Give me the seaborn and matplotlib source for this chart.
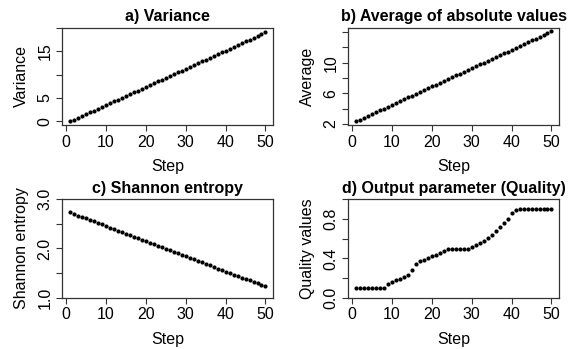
import matplotlib
matplotlib.use("Agg")
import matplotlib.pyplot as plt
import seaborn as sns
import pandas as pd

steps = list(range(1, 51))

variance = [0.00, 0.39, 0.78, 1.16, 1.55, 1.94, 2.33, 2.72, 3.10, 3.49,
            3.88, 4.27, 4.66, 5.04, 5.43, 5.82, 6.21, 6.60, 6.98, 7.37,
            7.76, 8.15, 8.54, 8.92, 9.31, 9.70, 10.09, 10.48, 10.86, 11.25,
            11.64, 12.03, 12.42, 12.80, 13.19, 13.58, 13.97, 14.36, 14.74, 15.13,
            15.52, 15.91, 16.30, 16.68, 17.07, 17.46, 17.85, 18.24, 18.62, 19.01]

average = [2.34, 2.58, 2.82, 3.06, 3.30, 3.54, 3.78, 4.02, 4.26, 4.50,
           4.74, 4.98, 5.22, 5.46, 5.70, 5.94, 6.18, 6.42, 6.66, 6.90,
           7.14, 7.38, 7.62, 7.86, 8.10, 8.34, 8.58, 8.82, 9.06, 9.30,
           9.54, 9.78, 10.02, 10.26, 10.50, 10.74, 10.98, 11.22, 11.46, 11.70,
           11.94, 12.18, 12.42, 12.66, 12.90, 13.14, 13.38, 13.62, 13.86, 14.10]

entropy = [2.74, 2.70, 2.67, 2.64, 2.61, 2.58, 2.55, 2.52, 2.49, 2.46,
           2.42, 2.39, 2.36, 2.33, 2.30, 2.27, 2.24, 2.21, 2.18, 2.15,
           2.12, 2.09, 2.06, 2.03, 1.99, 1.96, 1.93, 1.90, 1.87, 1.84,
           1.81, 1.78, 1.75, 1.72, 1.69, 1.66, 1.63, 1.59, 1.56, 1.53,
           1.50, 1.47, 1.44, 1.41, 1.38, 1.35, 1.32, 1.29, 1.26, 1.23]

quality = [0.10, 0.10, 0.10, 0.10, 0.10, 0.10, 0.10, 0.10, 0.14, 0.16,
           0.18, 0.19, 0.21, 0.23, 0.28, 0.34, 0.37, 0.385, 0.40, 0.42,
           0.43, 0.45, 0.47, 0.49, 0.50, 0.50, 0.50, 0.50, 0.50, 0.515,
           0.54, 0.56, 0.58, 0.61, 0.64, 0.68, 0.72, 0.755, 0.80, 0.865,
           0.895, 0.905, 0.905, 0.905, 0.905, 0.905, 0.905, 0.905, 0.905, 0.905]

titles = ["a) Variance", "b) Average of absolute values",
          "c) Shannon entropy", "d) Output parameter (Quality)"]
ylabels = ["Variance", "Average", "Shannon entropy", "Quality values"]
yticks = [[0, 5, 10, 15, 20], [2, 4, 6, 8, 10, 12, 14],
          [1.0, 1.5, 2.0, 2.5, 3.0], [0.0, 0.2, 0.4, 0.6, 0.8, 1.0]]
ytick_labels = [["0", "5", "", "15", ""], ["2", "", "6", "", "10", "", ""],
                ["1.0", "", "2.0", "", "3.0"], ["0.0", "", "0.4", "", "0.8", ""]]
xticks = [0, 10, 20, 30, 40, 50]
xtick_labels = ["0", "10", "20", "30", "40", "50"]

sns.set_theme(style="white")
plt.rcParams['font.family'] = ['Liberation Sans', 'DejaVu Sans']
plt.rcParams['text.color'] = 'black'
plt.rcParams['axes.labelcolor'] = 'black'
plt.rcParams['xtick.color'] = 'black'
plt.rcParams['ytick.color'] = 'black'

W, H = 572, 349
fig = plt.figure(figsize=(W / 100, H / 100), dpi=100)

boxes = [(62.3, 27.7, 273.3, 125.0), (348.3, 27.7, 559.3, 125.0),
         (62.3, 199.3, 273.3, 297.7), (348.3, 199.3, 559.3, 297.7)]

series = [variance, average, entropy, quality]

for k in range(4):
    l, t, r, b = boxes[k]
    ax = fig.add_axes([l / W, (H - b) / H, (r - l) / W, (b - t) / H])
    df = pd.DataFrame({"Step": steps, "val": series[k]})
    sns.scatterplot(data=df, x="Step", y="val", ax=ax, color="black",
                    s=9, linewidth=0, edgecolor="black")
    vals = series[k]
    lo, hi = min(vals), max(vals)
    pad = (hi - lo) * 0.04
    ax.set_ylim(lo - pad, hi + pad)
    ax.set_xlim(1 - 49 * 0.04, 50 + 49 * 0.04)
    ax.set_xticks(xticks)
    ax.set_xticklabels(xtick_labels, fontsize=11.5)
    ax.set_yticks(yticks[k])
    ax.set_yticklabels(ytick_labels[k], fontsize=11.5, rotation=90, va="center")
    ax.tick_params(axis="both", which="both", direction="out", length=4.5,
                   width=0.8, color="#333333", labelcolor="black", pad=2.5,
                   bottom=True, left=True)
    for sp in ax.spines.values():
        sp.set_visible(True)
        sp.set_color("#333333")
        sp.set_linewidth(0.9)
    ax.set_xlabel("Step", fontsize=11.5, labelpad=7, color="black")
    ax.set_ylabel(ylabels[k], fontsize=11.5, labelpad=6.5, color="black")
    ax.set_title(titles[k], fontsize=11.5, fontweight="bold", pad=4.5, color="black")
    ax.grid(False)

fig.savefig("out.png", dpi=100)
